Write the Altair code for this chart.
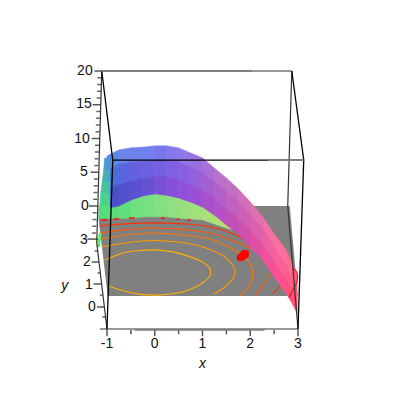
import altair as alt
import pandas as pd

# ---- surface columns, screen-projected x / z units
dome_x = [-1, -.75, -.5, -.25, 0, .25, .5, .75, 1, 1.25, 1.5, 1.75, 2, 2.25, 2.5, 2.75, 2.9, 2.98]
dome_top = [7.4, 8.3, 8.6, 8.7, 8.9, 8.9, 8.6, 7.85, 7.1, 5.6, 4.15, 2.5, .6, -1.5, -4.15, -6.5, -8.9, -9.9]
dome_r1 = [5.35, 6.2, 6.5, 6.65, 6.8, 6.8, 6.5, 5.8, 5.05, 3.55, 2.2, .75, -1.35, -3.25, -6.2, -8.75, -10.95, -12.15]
dome_r2 = [2.5, 3.1, 3.7, 4, 4.3, 4.3, 3.85, 3.1, 2.35, 1.2, -.6, -1.8, -3.7, -5.65, -8.3, -10.8, -12.75, -13.9]
dome_low = [-.3, 0, .9, 1.5, 1.8, 1.6, 1.2, .6, -.15, -1.35, -2.8, -4.15, -6.1, -7.85, -10.5, -12.9, -14.7, -15.85]
col_top = ['#5a88e4', '#6a84ea', '#6d80ee', '#7080ee', '#7878ec', '#8478ea', '#9078e8', '#9a70e0', '#a870d8',
           '#b870cc', '#c070c0', '#d070b8', '#e070b0', '#f070a8', '#ff70a0', '#ff6c90', '#ff6080']
col_mid = ['#4c6cd8', '#5a64de', '#6460e0', '#6a60e0', '#7460e0', '#7e60e0', '#8a60e0', '#9460dc', '#a460d0',
           '#b060c8', '#c060c0', '#cc60b8', '#dc60b0', '#ec60a4', '#fc6098', '#ff6088', '#ff5878']
col_low = ['#4a50c8', '#5250cc', '#5a50d0', '#6850d4', '#7a50d8', '#8650dc', '#9250d8', '#9a50d4', '#a850cc',
           '#b450c8', '#c050b8', '#d050b0', '#e050a4', '#f0509c', '#ff5090', '#ff5080', '#ff5070']

green_x = [-1, -.75, -.5, -.25, 0, .25, .5, .75, 1, 1.25, 1.5, 1.68]
green_top = [-.3, 0, .9, 1.5, 1.8, 1.6, 1.2, .6, -.15, -1.35, -2.8, -3.55]
green_low = [-1.8, -1.8, -1.8, -1.6, -1.6, -1.6, -1.8, -1.9, -2.05, -2.65, -3.25, -3.55]
green_col = ['#5ada78', '#62de7c', '#6ee080', '#78e080', '#84e080', '#8ee080', '#98e07e', '#a2e07c', '#aae078',
             '#b4e072', '#bce06c']

side_z = [7.1, 5.3, 3.55, 1.8, 0, -1.8]
side_left = [-1.047, -1.068, -1.10, -1.13, -1.152, -1.173]
side_right = [-.94, -.94, -.94, -.94, -.94, -.94]
side_col = ['#4a98d4', '#42b0b8', '#44c4a0', '#48d48c', '#52de7c']

patch_z = [-4, -6.07]
patch_left = [-1.17, -1.215]
patch_right = [-1.11, -1.15]

floor_x = [-1.173, -.984, 2.827, 2.995]
floor_top = [0, 0, 0, -13.33]
floor_low = [-2.07, -13.33, -13.33, -13.33]

# ---- contours
c1_x = [-1.047, -.63, -.3, 0, .38, .73, 1.0, 1.15, 1.17, 1.15, 1.0, .73, .38, 0, -.46, -.98]
c1_z = [-8.0, -6.9, -6.6, -6.5, -6.8, -7.5, -8.3, -9.2, -9.8, -10.4, -11.4, -12.4, -13, -13.2, -12.9, -11.85]
c2_x = [-1.11, -.73, -.37, 0, .38, .73, 1.1, 1.47, 1.63, 1.68, 1.63, 1.47, 1.24]
c2_z = [-6.07, -5.6, -5.25, -5.1, -5.25, -5.6, -6.3, -7.55, -8.74, -9.78, -10.8, -12, -13.03]
c3_x = [-1.15, -.6, 0, .6, 1.15, 1.57, 1.89, 2.05, 1.99, 1.78]
c3_z = [-4.9, -4.3, -4, -4.3, -4.9, -6.2, -7.55, -9.78, -11.7, -13.2]
c4_x = [-1.15, -.6, 0, .6, 1.15, 1.7, 2.09, 2.26, 2.41, 2.26, 2.1]
c4_z = [-4, -3.5, -3.26, -3.5, -4, -5.3, -6.6, -7.9, -9.78, -11.9, -13.2]
c5_x = [-1.15, -.6, 0, .6, 1.15, 1.7, 2.16, 2.5]
c5_z = [-2.95, -2.65, -2.5, -2.65, -3.1, -4.3, -6.5, -9]
c5b_x = [2.62, 2.55, 2.47]
c5b_z = [-11.85, -12.45, -13]
edge_x = [2.89, 2.98, 2.98, 2.89, 2.81]
edge_z = [-9.2, -9.9, -11.2, -12.45, -13.5]
dash_x1 = [-1.11, -.86, -.54, .13, .46, .69]
dash_x2 = [-.98, -.75, -.42, .21, .52, .75]
dash_z = [-2.07, -1.93, -1.78, -1.78, -1.93, -2.07]
blob_x = [1.72, 1.78, 1.84, 1.93, 1.97]
blob_top = [-7.4, -6.96, -6.5, -6.5, -6.67]
blob_low = [-8, -8.15, -8.15, -7.7, -7.56]

# ---- box lines
black_x1 = [-1.11, -.88, -.88, 3.12, 2.87]
black_x2 = [-.88, 3.12, -1, 3, 3.12]
black_z1 = [20, 6.81, 6.81, 6.81, 20]
black_z2 = [6.81, 6.81, -18.22, -18.22, 6.81]
dark_x1 = [-1.11, -1.215, 2.87, 2.785, 2.05, -1.15]
dark_x2 = [-1.215, -1, 2.785, 3, 2.87, 3]
dark_z1 = [20, -5.48, 20, 0, 20, -18.22]
dark_z2 = [-5.48, -18.22, 0, -18.22, 20, -18.22]
gray_x1 = [-1.11, 2.37, -.42]
gray_x2 = [2.05, 3.12, 2.3]
gray_z = [20, 6.81, -18.36]

# ---- ticks
zmaj_z = [20, 15, 10, 5, 0]
zmaj_l = [-1.26, -1.30, -1.32, -1.34, -1.38]
zmaj_r = [-1.11, -1.13, -1.15, -1.17, -1.19]
zmin_z = [19, 18, 17, 16, 14, 13, 12, 11, 9, 8, 7, 6, 4, 3, 2, 1, -1, -2, -3, -4]
zmin_l = [-1.2, -1.205, -1.21, -1.215, -1.225, -1.23, -1.235, -1.24, -1.25, -1.255, -1.26, -1.265,
          -1.275, -1.28, -1.285, -1.29, -1.30, -1.305, -1.31, -1.315]
zmin_r = [-1.115, -1.12, -1.125, -1.13, -1.14, -1.145, -1.15, -1.155, -1.165, -1.17, -1.175, -1.18,
          -1.19, -1.195, -1.2, -1.205, -1.215, -1.22, -1.225, -1.23]
ymaj_z = [-4.9, -8.3, -11.55, -14.96]
ymaj_l = [-1.41, -1.32, -1.28, -1.21]
ymaj_r = [-1.19, -1.17, -1.11, -1.06]
ymin_z = [-6.67, -9.93, -13.2, -16.44]
ymin_l = [-1.26, -1.2, -1.15, -1.1]
ymin_r = [-1.19, -1.14, -1.09, -1.03]
xmin_x = [-.5, .5, 1.5, 2.5]
xmin_z1 = [-18.35, -18.35, -18.35, -18.35]
xmin_z2 = [-19, -19, -19, -19]
xmaj_x = [-1, 0, 1, 2, 3]
xmaj_z1 = [-18.3, -18.3, -18.3, -18.3, -18.3]
xmaj_z2 = [-19.3, -19.3, -19.3, -19.3, -19.3]

# ---- labels
zlab_text = ['20', '15', '10', '5', '0']
zlab_x = [-1.3, -1.32, -1.36, -1.40, -1.38]
zlab_z = [20, 15.1, 10, 5, 0]
ylab_text = ['3', '2', '1', '0']
ylab_x = [-1.40, -1.34, -1.30, -1.235]
ylab_z = [-5.04, -8.3, -11.7, -14.96]
xlab_text = ['-1', '0', '1', '2', '3']
xlab_x = [-1, 0, 1, 2, 3]
xlab_z = [-20.44, -20.44, -20.44, -20.44, -20.44]
name_text = ['y', 'x']
name_x = [-1.885, 1.0]
name_z = [-11.85, -23.4]

FONT = 'Liberation Sans'
sx = alt.Scale(domain=[-1, 3], nice=False, zero=False)
sz = alt.Scale(domain=[-18.22, 20], nice=False, zero=False)
X = alt.X('x:Q', scale=sx, axis=None, title=None)
Y = alt.Y('z:Q', scale=sz, axis=None, title=None, stack=None)
X2 = alt.X2('x2:Q')
Y2 = alt.Y2('z2:Q')


def cells(xs, tops, lows, cols):
    rows = []
    for i, c in enumerate(cols):
        for j in (i, i + 1):
            rows.append(dict(x=xs[j], z=tops[j], z2=lows[j], c=c, cell=f'{i}'))
    return rows


def cells_h(zs, lefts, rights, cols):
    rows = []
    for i, c in enumerate(cols):
        for j in (i, i + 1):
            rows.append(dict(z=zs[j], x=lefts[j], x2=rights[j], c=c, cell=f'{i}'))
    return rows


def band(rows):
    return (alt.Chart(pd.DataFrame(rows)).mark_area(strokeWidth=0.7, interpolate='linear', opacity=1)
            .encode(x=X, y=Y, y2=Y2, color=alt.Color('c:N', scale=None), stroke=alt.Stroke('c:N', scale=None),
                    detail='cell:N'))


def contour(xs, zs, colour):
    df = pd.DataFrame(dict(x=xs, z=zs, i=range(len(xs))))
    return alt.Chart(df).mark_line(color=colour, strokeWidth=1.1, interpolate='cardinal').encode(
        x=X, y=Y, order='i:Q')


def segs(x1, x2, z1, z2, colour, w):
    df = pd.DataFrame(dict(x=x1, x2=x2, z=z1, z2=z2))
    return alt.Chart(df).mark_rule(color=colour, strokeWidth=w).encode(x=X, x2=X2, y=Y, y2=Y2)


def labels(text, xs, zs, align, italic=False):
    df = pd.DataFrame(dict(t=text, x=xs, z=zs))
    return alt.Chart(df).mark_text(font=FONT, fontSize=14, align=align, baseline='middle', color='#111111',
                                   fontStyle='italic' if italic else 'normal').encode(x=X, y=Y, text='t:N')


floor = alt.Chart(pd.DataFrame(dict(x=floor_x, z=floor_top, z2=floor_low))).mark_area(color='#808080').encode(
    x=X, y=Y, y2=Y2)

dome = cells(dome_x, dome_top, dome_r1, col_top)
mid = cells(dome_x, dome_r1, dome_r2, col_mid)
low = cells(dome_x, dome_r2, dome_low, col_low)
for name, rows in (('t', dome), ('m', mid), ('l', low)):
    for r in rows:
        r['cell'] = name + r['cell']

side_df = pd.DataFrame(cells_h(side_z, side_left, side_right, side_col))
side = alt.Chart(side_df).mark_area(orient='horizontal', strokeWidth=0.7).encode(
    x=alt.X('x:Q', scale=sx, axis=None, title=None, stack=None), x2=X2,
    y=alt.Y('z:Q', scale=sz, axis=None, title=None),
    color=alt.Color('c:N', scale=None), stroke=alt.Stroke('c:N', scale=None), detail='cell:N')
patch = alt.Chart(pd.DataFrame(dict(z=patch_z, x=patch_left, x2=patch_right))).mark_area(
    orient='horizontal', color='#60ee68').encode(
    x=alt.X('x:Q', scale=sx, axis=None, title=None, stack=None), x2=X2,
    y=alt.Y('z:Q', scale=sz, axis=None, title=None))
blob = alt.Chart(pd.DataFrame(dict(x=blob_x, z=blob_top, z2=blob_low))).mark_area(color='#ff0000').encode(
    x=X, y=Y, y2=Y2)

chart = alt.layer(
    floor,
    contour(c1_x, c1_z, '#ffb000'),
    contour(c2_x, c2_z, '#ff9800'),
    contour(c3_x, c3_z, '#ff7400'),
    contour(c4_x, c4_z, '#ff5800'),
    contour(c5_x, c5_z, '#ff3000'),
    contour(c5b_x, c5b_z, '#ff3000'),
    band(cells(green_x, green_top, green_low, green_col)),
    band(dome), band(mid), band(low),
    side, patch,
    segs(dash_x1, dash_x2, dash_z, dash_z, '#ff1000', 1.5),
    contour(edge_x, edge_z, '#ff1000'),
    blob,
    segs(xmin_x, xmin_x, xmin_z1, xmin_z2, '#555555', 1.5),
    segs(xmaj_x, xmaj_x, xmaj_z1, xmaj_z2, '#555555', 1.5),
    segs(zmaj_l, zmaj_r, zmaj_z, zmaj_z, '#555555', 1.5),
    segs(zmin_l, zmin_r, zmin_z, zmin_z, '#666666', 1.5),
    segs(ymaj_l, ymaj_r, ymaj_z, ymaj_z, '#555555', 1.5),
    segs(ymin_l, ymin_r, ymin_z, ymin_z, '#666666', 1.5),
    segs(dark_x1, dark_x2, dark_z1, dark_z2, '#333333', 1.2),
    segs(black_x1, black_x2, black_z1, black_z2, '#000000', 1.3),
    segs(gray_x1, gray_x2, gray_z, gray_z, '#808080', 1.8),
    labels(zlab_text, zlab_x, zlab_z, 'right'),
    labels(ylab_text, ylab_x, ylab_z, 'right'),
    labels(xlab_text, xlab_x, xlab_z, 'center'),
    labels(name_text, name_x, name_z, 'center', italic=True),
).properties(
    width=191, height=258,
    padding={'left': 99, 'top': 63, 'right': 20, 'bottom': 50},
    autosize=alt.AutoSizeParams(type='none'),
    background='#ffffff',
).configure_view(stroke=None)

chart.save('out.html', embed_options={'renderer': 'svg', 'actions': False})
